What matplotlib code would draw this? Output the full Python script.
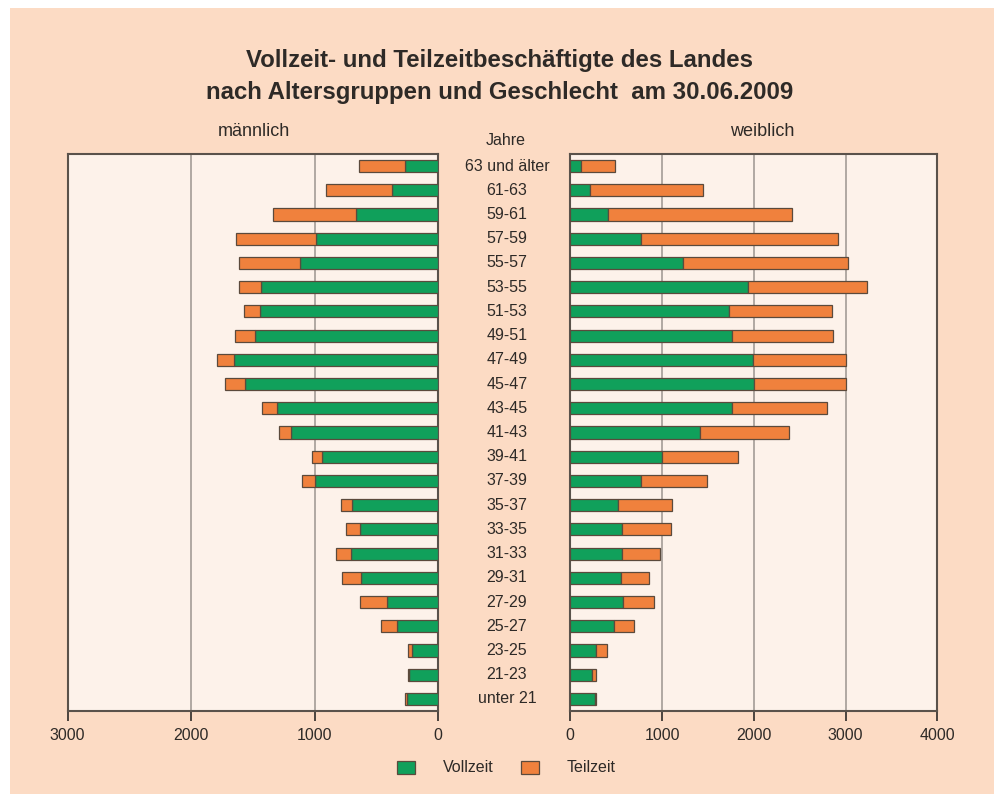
import matplotlib
matplotlib.use("Agg")
import matplotlib.pyplot as plt
import matplotlib.transforms as mtransforms
from matplotlib.patches import Rectangle

plt.rcParams["font.family"] = ["Liberation Sans", "DejaVu Sans"]

# age groups, top to bottom
groups = ["63 und älter", "61-63", "59-61", "57-59", "55-57", "53-55", "51-53",
          "49-51", "47-49", "45-47", "43-45", "41-43", "39-41", "37-39", "35-37",
          "33-35", "31-33", "29-31", "27-29", "25-27", "23-25", "21-23", "unter 21"]

# männlich
m_voll = [268, 375, 667, 987, 1119, 1438, 1443, 1484, 1654, 1565, 1303, 1189,
          943, 997, 697, 635, 705, 624, 416, 332, 216, 238, 257]
m_teil = [372, 536, 671, 651, 495, 176, 130, 162, 138, 160, 124, 100,
          79, 106, 87, 111, 122, 157, 214, 133, 33, 11, 11]

# weiblich
w_voll = [116, 211, 414, 766, 1224, 1937, 1725, 1766, 1991, 1998, 1766, 1417,
          995, 766, 516, 559, 559, 552, 571, 472, 276, 233, 265]
w_teil = [371, 1231, 2006, 2155, 1806, 1300, 1123, 1100, 1010, 1010, 1028, 970,
          829, 720, 596, 535, 415, 306, 345, 226, 120, 50, 11]

GREEN = "#10a05b"
ORANGE = "#f0813d"
EDGE = "#5b4a3c"
BG = "#fcdbc4"
PANEL = "#fdf2ea"
GRID = "#a39c96"
DARK = "#2e2a27"

W, H = 995, 794
fig = plt.figure(figsize=(W / 100, H / 100), dpi=100, facecolor="white")
fig.patches.append(Rectangle((10 / W, 0), 1 - 10 / W, 1 - 8 / H,
                             transform=fig.transFigure, facecolor=BG,
                             edgecolor="none", zorder=-10))


def px_axes(x0, x1, y0, y1):
    return fig.add_axes([x0 / W, 1 - y1 / H, (x1 - x0) / W, (y1 - y0) / H])


axL = px_axes(67.7, 438.3, 154, 711)
axR = px_axes(570.3, 937.3, 154, 711)

ypos = list(range(len(groups)))
for ax, voll, teil, xmax, grid in [(axL, m_voll, m_teil, 3000, [1000, 2000]),
                                   (axR, w_voll, w_teil, 4000, [1000, 2000, 3000])]:
    ax.set_facecolor(PANEL)
    ax.barh(ypos, voll, height=0.5, color=GREEN, edgecolor=EDGE, linewidth=0.9, zorder=3)
    ax.barh(ypos, teil, left=voll, height=0.5, color=ORANGE, edgecolor=EDGE,
            linewidth=0.9, zorder=3)
    for g in grid:
        ax.axvline(g, color=GRID, linewidth=1.2, zorder=1)
    ax.set_ylim(len(groups) - 0.5, -0.5)
    ax.set_xticks(range(0, xmax + 1, 1000))
    ax.set_yticks([])
    ax.tick_params(axis="x", direction="out", length=7, width=1.2, color=DARK,
                   labelsize=11.5, labelcolor=DARK, pad=5)
    for s in ax.spines.values():
        s.set_color("#5a524b")
        s.set_linewidth(1.5)

axL.set_xlim(3000, 0)
axR.set_xlim(0, 4000)

# age labels between the panels
trans = mtransforms.blended_transform_factory(fig.transFigure, axL.transData)
for y, g in zip(ypos, groups):
    fig.text(507 / W, y, g, transform=trans, ha="center", va="center",
             fontsize=11.5, color=DARK)

fig.text(506 / W, 1 - 140.5 / H, "Jahre", ha="center", va="center", fontsize=11.5, color=DARK)
fig.text(254 / W, 1 - 131 / H, "männlich", ha="center", va="center", fontsize=13, color=DARK)
fig.text(762 / W, 1 - 131 / H, "weiblich", ha="center", va="center", fontsize=13, color=DARK)

fig.text(500 / W, 1 - 61 / H, "Vollzeit- und Teilzeitbeschäftigte des Landes",
         ha="center", va="center", fontsize=17.3, fontweight="bold", color=DARK)
fig.text(500 / W, 1 - 92 / H, "nach Altersgruppen und Geschlecht  am 30.06.2009",
         ha="center", va="center", fontsize=17.3, fontweight="bold", color=DARK)

# legend
for x0, col, lab in [(397, GREEN, "Vollzeit"), (521, ORANGE, "Teilzeit")]:
    fig.patches.append(Rectangle((x0 / W, 1 - 774 / H), 18.5 / W, 13.5 / H,
                                 transform=fig.transFigure, facecolor=col,
                                 edgecolor=EDGE, linewidth=0.9))
    fig.text((x0 + 46) / W, 1 - 767 / H, lab, ha="left", va="center",
             fontsize=11.5, color=DARK)

fig.savefig("out.png", dpi=100, facecolor="white")
